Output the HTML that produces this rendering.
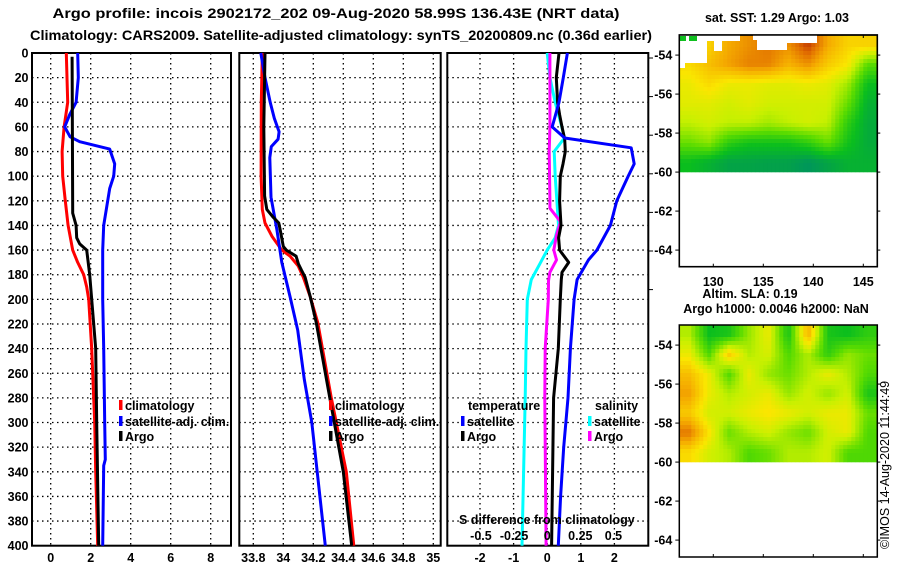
<!DOCTYPE html>
<html><head><meta charset="utf-8">
<style>
html,body{margin:0;padding:0;background:#fff;}
svg{display:block;font-family:"Liberation Sans",sans-serif;}
.t{font-weight:bold;font-size:12.5px;fill:#000;}
.ti{font-weight:bold;font-size:13.5px;fill:#000;}
</style></head>
<body>
<svg id="chart" width="900" height="580" viewBox="0 0 900 580" xmlns="http://www.w3.org/2000/svg">
<text class="ti" x="52.5" y="18" textLength="567" lengthAdjust="spacingAndGlyphs">Argo profile: incois 2902172_202 09-Aug-2020 58.99S 136.43E (NRT data)</text>
<text class="ti" x="30" y="40" textLength="622" lengthAdjust="spacingAndGlyphs">Climatology: CARS2009. Satellite-adjusted climatology: synTS_20200809.nc (0.36d earlier)</text>
<g id="panels"></g>
<g id="maps"></g>
<text transform="translate(889,549) rotate(-90)" font-size="12.5" fill="#000">©IMOS 14-Aug-2020 11:44:49</text>
</svg>
<script>
// ---------- data ----------
const depthTicks=[0,20,40,60,80,100,120,140,160,180,200,220,240,260,280,300,320,340,360,380,400];
// Panel 1: temperature
const tempTicks=[0,2,4,6,8];
const tClimDepth=[0,40,60,80,100,120,140,160,170,180,190,200,240,280,300,340,400];
const tClimVal=[0.78,0.85,0.67,0.57,0.6,0.73,0.87,1.1,1.35,1.65,1.8,1.9,2.05,2.15,2.2,2.25,2.35];
const tSatDepth=[0,20,40,50,60,68,72,78,90,100,110,130,140,160,200,240,300,330,335,400];
const tSatVal=[1.35,1.38,1.27,0.95,0.7,0.97,1.45,2.95,3.2,3.15,2.95,2.75,2.65,2.6,2.6,2.65,2.7,2.73,2.65,2.6];
const tArgoDepth=[3,130,140,150,155,160,180,200,240,300,400];
const tArgoVal=[1.07,1.1,1.27,1.3,1.45,1.8,1.95,2.05,2.25,2.3,2.4];
// Panel 2: salinity
const salTicks=[33.8,34,34.2,34.4,34.6,34.8,35];
const salTickLabels=["33.8","34","34.2","34.4","34.6","34.8","35"];
const sClimDepth=[0,40,100,127,138,149,160,165,173,182,198,219,280,340,400];
const sClimVal=[33.86,33.853,33.852,33.86,33.878,33.925,33.99,34.045,34.1,34.133,34.18,34.23,34.32,34.42,34.47];
const sSatDepth=[0,20,40,53,64,70,76,85,117,144,170,198,225,265,300,400];
const sSatVal=[33.85,33.878,33.913,33.94,33.972,33.965,33.92,33.91,33.918,33.958,33.99,34.045,34.096,34.14,34.19,34.28];
const sArgoDepth=[0,60,116,127,133,138,144,157,160,165,171,176,182,198,219,280,340,400];
const sArgoVal=[33.878,33.87,33.875,33.89,33.93,33.97,33.98,34.0,34.02,34.085,34.1,34.12,34.145,34.18,34.22,34.31,34.4,34.456];
// Panel 3: differences
const dTTicks=[-2,-1,0,1,2];
const dSTicks=[-0.5,-0.25,0,0.25,0.5];
const dTSatDepth=[0,20,40,50,60,69,77,80,90,100,120,140,160,168,184,200,240,280,320,360,400];
const dTSatVal=[0.6,0.48,0.35,0.25,0.15,0.52,2.5,2.52,2.59,2.41,2.07,1.88,1.48,1.23,0.89,0.8,0.69,0.62,0.49,0.4,0.33];
const dTArgoDepth=[0,20,40,50,60,70,80,90,100,120,140,150,160,170,178,184,200,240,280,400];
const dTArgoVal=[0.35,0.27,0.31,0.37,0.44,0.52,0.54,0.47,0.39,0.37,0.41,0.34,0.37,0.64,0.44,0.42,0.39,0.33,0.19,0.13];
const dSSatDepth=[0,20,40,50,60,69,80,100,120,140,150,160,170,184,200,240,280,400];
const dSSatVal=[0.0,0.02,0.06,0.085,0.11,0.13,0.053,0.06,0.073,0.085,0.06,0,-0.05,-0.12,-0.15,-0.16,-0.166,-0.19];
const dSArgoDepth=[0,60,80,120,126,137,148,160,168,178,185,200,240,280,400];
const dSArgoVal=[0.02,0.02,0.015,0.02,0.02,0.1,0.07,0.05,0.07,0.02,0.01,0.008,-0.015,-0.018,-0.008];
// Maps
const latTicks=[-54,-56,-58,-60,-62,-64];
const lonTicks=[130,135,140,145];
const sstGrid=[
[.55,.6,.7,.75,.8,.75,.9,.7,.6,.6],
[.58,.65,.72,.78,.78,.68,.75,.62,.55,.3],
[.52,.58,.52,.52,.5,.5,.52,.5,.4,.15],
[.5,.5,.47,.5,.47,.47,.47,.47,.32,.1],
[.44,.47,.44,.44,.4,.44,.47,.44,.22,.08],
[.32,.37,.22,.17,.17,.17,.22,.32,.17,.08],
[.15,.1,.05,.05,.04,.04,.0,.05,.1,.1]];
const slaGrid=[
[.42,.15,.18,.38,.52,.18,.68,.18,.15,.22],
[.52,.28,.62,.42,.48,.28,.42,.22,.38,.32],
[.65,.52,.28,.52,.38,.32,.42,.52,.42,.28],
[.72,.52,.42,.47,.52,.38,.47,.38,.47,.18],
[.62,.47,.47,.52,.56,.52,.47,.52,.52,.32],
[.8,.56,.32,.42,.47,.38,.32,.47,.52,.28],
[.58,.47,.42,.28,.32,.42,.42,.47,.28,.28]];

// ---------- helpers ----------
const NS="http://www.w3.org/2000/svg";
const P=document.getElementById('panels'), M=document.getElementById('maps');
function mk(parent,tag,attrs){const e=document.createElementNS(NS,tag);for(const k in attrs)e.setAttribute(k,attrs[k]);parent.appendChild(e);return e;}
const yTop=53, yBot=545.7;
const yD=d=>yTop+(yBot-yTop)*d/400;
function line(parent,x1,y1,x2,y2,extra){return mk(parent,'line',Object.assign({x1,y1,x2,y2,stroke:'#000','stroke-width':1},extra||{}));}
function txt(parent,x,y,s,anchor,cls){const t=mk(parent,'text',{x,y,'text-anchor':anchor||'start',class:cls||'t'});t.textContent=s;return t;}

function panel(name,L,R,xTicks,xfn,labels){
  const g=mk(P,'g',{});
  
  
  depthTicks.forEach(d=>{ if(d>0&&d<400) line(g,L,yD(d),R,yD(d),{'stroke-dasharray':'1.5,3.5','stroke-width':1.3}); });
  xTicks.forEach(v=>{ line(g,xfn(v),yTop,xfn(v),yBot,{'stroke-dasharray':'1.5,3.5','stroke-width':1.3}); });
  mk(g,'rect',{x:L,y:yTop,width:R-L,height:yBot-yTop,fill:'none',stroke:'#000','stroke-width':2});
  xTicks.forEach((v,i)=>{ const t=txt(g,xfn(v),562,labels[i],'middle');
    
     });
  return g;
}
function series(g,name,depths,vals,xfn,color,w){
  const pts=depths.map((d,i)=>xfn(vals[i]).toFixed(1)+','+yD(d).toFixed(1)).join(' ');
  const p=mk(g,'polyline',{points:pts,fill:'none',stroke:color,'stroke-width':w||3,'stroke-linejoin':'round'});
  
  
}
function legend(g,x,y,color,label){
  mk(g,'rect',{x:x,y:y-10,width:3.5,height:10,fill:color});
  const t=txt(g,x+6,y,label);
  
  
}

// y axis labels
const ya=mk(P,'g',{});


depthTicks.forEach(d=>{ txt(ya,28.5,yD(d)+4.5,String(d),'end'); });

// Panel 1
const xT=v=>50.7+20*v;
const g1=panel('temperature-panel',32,231,tempTicks,xT,tempTicks.map(String));
series(g1,'temp-climatology-line',tClimDepth,tClimVal,xT,'#f00');
series(g1,'temp-satellite-adj-line',tSatDepth,tSatVal,xT,'#00f');
series(g1,'temp-argo-line',tArgoDepth,tArgoVal,xT,'#000');
legend(g1,119,410,'#f00','climatology');
legend(g1,119,426,'#00f','satellite-adj. clim.');
legend(g1,119,441,'#000','Argo');

// Panel 2
const xS=v=>253.3+150*(v-33.8);
const g2=panel('salinity-panel',239.3,440.7,salTicks,xS,salTickLabels);
series(g2,'sal-climatology-line',sClimDepth,sClimVal,xS,'#f00');
series(g2,'sal-satellite-adj-line',sSatDepth,sSatVal,xS,'#00f');
series(g2,'sal-argo-line',sArgoDepth,sArgoVal,xS,'#000');
legend(g2,329,410,'#f00','climatology');
legend(g2,329,426,'#00f','satellite-adj. clim.');
legend(g2,329,441,'#000','Argo');

// Panel 3
const xDT=v=>547.2+33.6*v;
const xDS=v=>547.2+132.5*v;
const g3=panel('difference-panel',447.3,648.3,dTTicks,xDT,dTTicks.map(String));
series(g3,'dsal-satellite-line',dSSatDepth,dSSatVal,xDS,'#0ff');
series(g3,'dsal-argo-line',dSArgoDepth,dSArgoVal,xDS,'#f0f');
series(g3,'dtemp-argo-line',dTArgoDepth,dTArgoVal,xDT,'#000');
series(g3,'dtemp-satellite-line',dTSatDepth,dTSatVal,xDT,'#00f');
txt(g3,468,410,'temperature');
txt(g3,595,410,'salinity');
legend(g3,461,426,'#00f','satellite');
legend(g3,461,441,'#000','Argo');
legend(g3,588,426,'#0ff','satellite');
legend(g3,588,441,'#f0f','Argo');
const st=txt(g3,459,524,'S difference from climatology');


dSTicks.forEach(v=>{ txt(g3,xDS(v),540,String(v),'middle'); });
for(let y=58;y<300;y+=38.6) line(P,648,y,653,y);

// ---------- maps ----------
const stops=[[0,[0,150,90]],[0.15,[10,190,30]],[0.3,[90,220,0]],[0.45,[200,240,0]],[0.55,[250,230,0]],[0.7,[245,170,0]],[0.82,[225,110,0]],[0.92,[190,50,0]],[1,[160,10,0]]];
function cmap(v){v=Math.max(0,Math.min(1,v));for(let i=1;i<stops.length;i++){if(v<=stops[i][0]){const a=stops[i-1],b=stops[i],f=(v-a[0])/(b[0]-a[0]);return 'rgb('+a[1].map((c,k)=>Math.round(c+(b[1][k]-c)*f)).join(',')+')';}}return 'rgb(160,10,0)';}
function grid(g,grd,L,T,W,H){
  const rows=grd.length,cols=grd[0].length,cs=4;
  for(let y=0;y<H;y+=cs)for(let x=0;x<W;x+=cs){
    const fx=Math.min(cols-1.001,Math.max(0,(x+cs/2)/W*cols-0.5)),fy=Math.min(rows-1.001,Math.max(0,(y+cs/2)/H*rows-0.5));
    const i=Math.floor(fy),j=Math.floor(fx),a=fy-i,b=fx-j;
    const v=grd[i][j]*(1-a)*(1-b)+grd[i][j+1]*(1-a)*b+grd[i+1][j]*a*(1-b)+grd[i+1][j+1]*a*b;
    mk(g,'rect',{x:L+x,y:T+y,width:Math.min(cs,W-x)+0.3,height:Math.min(cs,H-y)+0.3,fill:cmap(v)});
  }
}
function mapPanel(name,top,dataBottom,axisBottom,grd,showLon){
  const L=679.3,R=877.3;
  const g=mk(M,'g',{});
  
  
  grid(g,grd,L,top,R-L,dataBottom-top);
  const latY=lat=>top+(-52.97-lat)*19.5;
  const lonX=lon=>713.3+10*(lon-130);
  mk(g,'rect',{x:L,y:top,width:R-L,height:axisBottom-top,fill:'none',stroke:'#000','stroke-width':1.5});
  latTicks.forEach(lat=>{const y=latY(lat);line(g,L-4,y,L,y);line(g,R,y,R+3,y);
    const t=txt(g,L-7,y+4.5,String(lat),'end');
    
    });
  lonTicks.forEach(lon=>{const x=lonX(lon);line(g,x,top,x,top+3);line(g,x,axisBottom-3,x,axisBottom);
    if(showLon){const t=txt(g,x,286,String(lon),'middle');
      
      }});
  return g;
}
const m1=mapPanel('sst-map',35,172,266.7,sstGrid,true);
// missing-data (white) patches in SST map
[[679,35,28,28],[700,35,40,6],[714,41,8,10],[722,35,18,5],[753,35,34,5],[757,35,30,15],[787,35,30,8],[679,63,6,5]].forEach(r=>mk(m1,'rect',{x:r[0],y:r[1],width:r[2],height:r[3],fill:'#fff'}));
mk(m1,'rect',{x:680,y:36,width:6,height:5,fill:'#10c020'});
mk(m1,'rect',{x:689,y:36,width:8,height:5,fill:'#10c020'});
mk(m1,'rect',{x:679.3,y:35,width:198,height:231.7,fill:'none',stroke:'#000','stroke-width':1.5});
txt(m1,777,22,'sat. SST: 1.29 Argo: 1.03','middle');
const m2=mapPanel('sla-map',325,462,557,slaGrid,false);
txt(M,750,298,'Altim. SLA: 0.19','middle');
txt(M,776,313,'Argo h1000: 0.0046 h2000: NaN','middle');
</script>
</body></html>
